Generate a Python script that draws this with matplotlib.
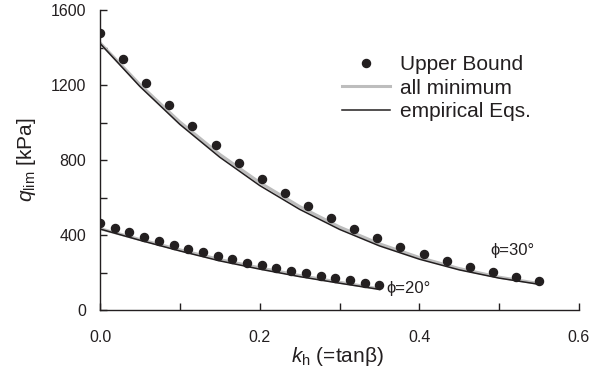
import numpy as np
import matplotlib
matplotlib.use("Agg")
import matplotlib.pyplot as plt

plt.rcParams['font.family'] = ['Liberation Sans', 'DejaVu Sans']
plt.rcParams['mathtext.fontset'] = 'custom'
plt.rcParams['mathtext.rm'] = 'Liberation Sans'
plt.rcParams['mathtext.it'] = 'Liberation Sans:italic'

ink = '#231f20'

# upper bound points (phi = 30 and phi = 20)
kh30 = np.linspace(0, 0.55, 20)
ub30 = [1480, 1340, 1212, 1092, 981, 880, 786, 700, 622, 555,
        489, 432, 382, 338, 297, 261, 229, 203, 174, 155]
kh20 = np.linspace(0, 0.35, 20)
ub20 = [462, 436, 414, 391, 370, 348, 327, 308, 288, 270,
        252, 238, 222, 208, 196, 183, 172, 158, 146, 133]

# curves
kc30 = [0, 0.05, 0.1, 0.15, 0.2, 0.25, 0.3, 0.35, 0.4, 0.45, 0.5, 0.55]
emp30 = [1422, 1192, 990, 815, 664, 537, 430, 342, 271, 214, 170, 137]
min30 = [1425, 1202, 1003, 830, 680, 552, 443, 353, 280, 221, 175, 141]
kc20 = [0, 0.05, 0.1, 0.15, 0.2, 0.25, 0.3, 0.35]
emp20 = [432, 372, 315, 262, 218, 178, 143, 110]
min20 = [434, 376, 321, 269, 225, 184, 148, 113]

fig = plt.figure(figsize=(6.16, 3.78), dpi=100)
ax = fig.add_axes([100/616, 68/378, 479/616, 300/378])

ax.plot(kc30, min30, color='#bdbdbd', lw=2.2, label='all minimum', zorder=2)
ax.plot(kc20, min20, color='#bdbdbd', lw=2.2, zorder=2)
ax.plot(kc30, emp30, color=ink, lw=1.1, label='empirical Eqs.', zorder=3)
ax.plot(kc20, emp20, color=ink, lw=1.1, zorder=3)
ax.plot(kh30, ub30, 'o', color=ink, ms=5.8, label='Upper Bound', zorder=4)
ax.plot(kh20, ub20, 'o', color=ink, ms=5.8, zorder=4)

ax.set_xlim(0, 0.6)
ax.set_ylim(0, 1600)
ax.set_xticks(np.arange(0, 0.61, 0.1))
ax.set_xticklabels(['0.0', '', '0.2', '', '0.4', '', '0.6'])
ax.set_yticks(np.arange(0, 1601, 200))
ax.set_yticklabels(['0', '', '400', '', '800', '', '1200', '', '1600'])
ax.tick_params(direction='in', length=5, width=1, colors=ink, labelsize=11.5)
ax.tick_params(axis='y', pad=10)
ax.tick_params(axis='x', pad=14.5)
for s in ['top', 'right']:
    ax.spines[s].set_visible(False)
for s in ['left', 'bottom']:
    ax.spines[s].set_color(ink)
    ax.spines[s].set_linewidth(1)

ax.set_xlabel(r'$k_{\rm h}$ (=tanβ)', fontsize=15, color=ink)
ax.set_ylabel(r'$q_{\rm lim}$ [kPa]', fontsize=15, color=ink)
ax.yaxis.set_label_coords(-0.130, 0.5)
ax.xaxis.set_label_coords(0.495, -0.117)

ax.text(0.516, 315, 'ϕ=30°', fontsize=12, color=ink, ha='center', va='center')
ax.text(0.386, 115, 'ϕ=20°', fontsize=12, color=ink, ha='center', va='center')

h, l = ax.get_legend_handles_labels()
order = [2, 0, 1]
leg = ax.legend([h[i] for i in order], [l[i] for i in order], loc='upper left',
                bbox_to_anchor=(0.505, 0.85), frameon=False, fontsize=15,
                handlelength=2.3, handletextpad=0.5, labelspacing=0.22,
                borderpad=0, borderaxespad=0)
for t in leg.get_texts():
    t.set_color(ink)

fig.savefig('out.png', dpi=100)
